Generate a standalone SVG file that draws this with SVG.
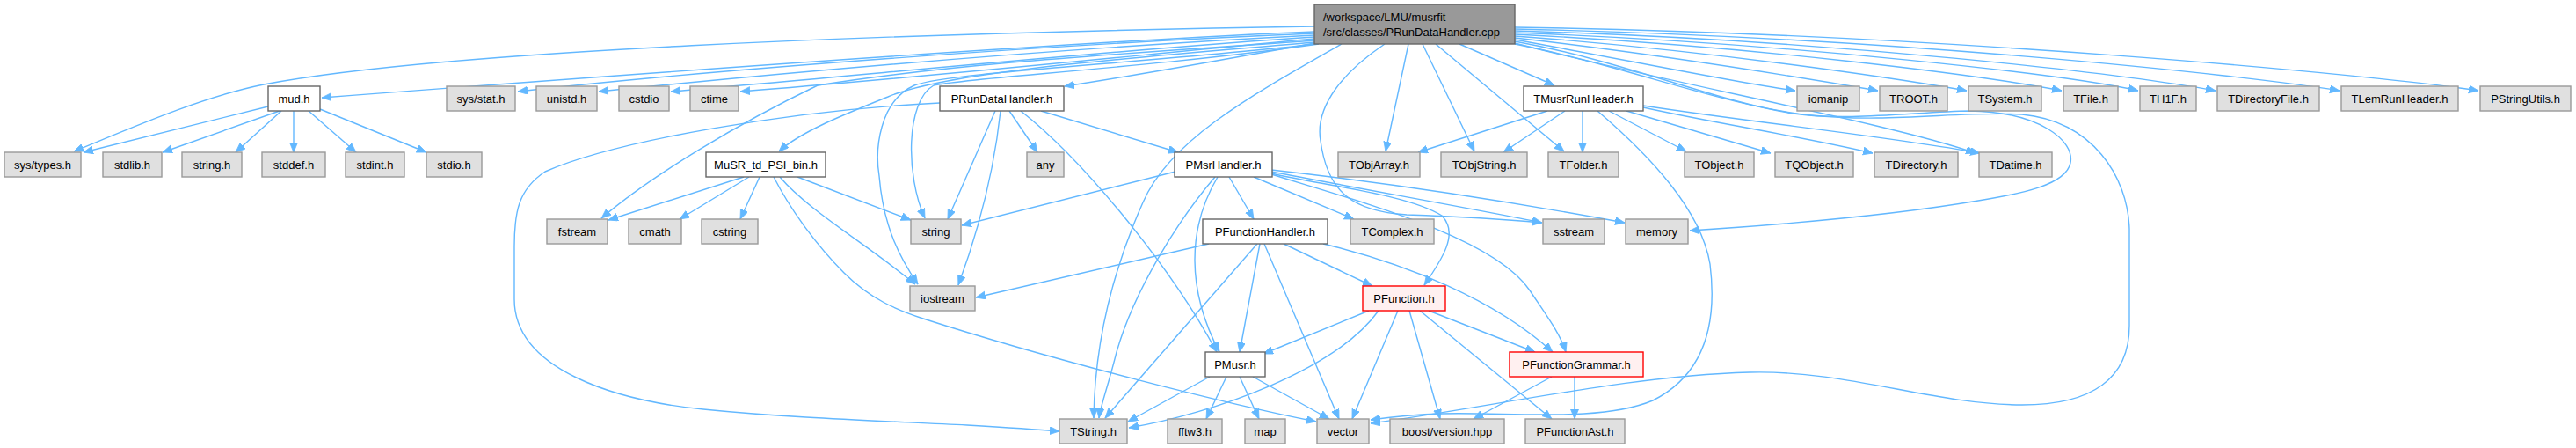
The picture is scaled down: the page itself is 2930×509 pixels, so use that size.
<svg xmlns="http://www.w3.org/2000/svg" width="2930" height="509" viewBox="0 0 2930 509">
<style>
.bg{fill:#ffffff}
.g rect{fill:#e0e0e0;stroke:#999999;stroke-width:1.4}
.w rect{fill:#ffffff;stroke:#666666;stroke-width:1.4}
.r rect{fill:#fff0f0;stroke:#ff0000;stroke-width:1.4}
.root rect{fill:#999999;stroke:#666666;stroke-width:1.4}
text{font-family:"Liberation Sans",Arial,sans-serif;font-size:13px;fill:#000000;text-anchor:middle}
.root text{text-anchor:start}
#edges path{fill:none;stroke:#63b8ff;stroke-width:1.4;marker-end:url(#ah)}
</style>
<defs>
<marker id="ah" markerUnits="userSpaceOnUse" markerWidth="12" markerHeight="10" refX="11" refY="4.5" orient="auto">
<path d="M0,0 L11,4.5 L0,9 z" fill="#63b8ff" stroke="#63b8ff" stroke-width="0.8"/>
</marker>
</defs>
<rect class="bg" x="0" y="0" width="2930" height="509"/>
<g id="edges">
<!-- root edges -->
<path d="M1495,36 C1250,46 800,78 366,111"/>
<path d="M1495,30 C1000,38 500,58 300,96 C230,110 150,145 84,172"/>
<path d="M1495,38 C1200,50 800,80 589,104"/>
<path d="M1495,40 C1200,55 900,82 681,104"/>
<path d="M1495,42 C1250,58 1000,84 763,104"/>
<path d="M1495,44 C1300,62 1050,88 842,104"/>
<path d="M1495,46 C1300,60 1100,70 930,97 C840,140 740,200 684,248"/>
<path d="M1495,48 C1300,65 1080,80 1010,110 C960,130 910,150 886,172"/>
<path d="M1497,50 C1300,72 1080,82 1040,97 C1000,115 995,170 1000,200 C1005,260 1025,295 1044,323"/>
<path d="M1500,50 C1300,78 1100,88 1062,97 C1030,115 1030,200 1052,248"/>
<path d="M1495,49 C1380,70 1290,86 1211,98"/>
<path d="M1526,50 C1420,110 1330,160 1300,230 C1260,320 1245,400 1244,475"/>
<path d="M1602,50 L1576,172"/>
<path d="M1618,50 L1677,172"/>
<path d="M1633,50 L1779,172"/>
<path d="M1660,50 L1768,97"/>
<path d="M1575,50 C1530,80 1495,120 1502,160 C1510,220 1540,240 1600,244 C1660,246 1700,248 1753,253"/>
<path d="M1723,47 C1850,70 1950,115 2040,129 C2100,138 2180,127 2240,126 C2320,127 2360,160 2355,185 C2350,210 2300,220 2250,228 C2150,245 2030,255 1922,262"/>
<path d="M1723,50 C1850,75 1960,120 2060,131 C2150,140 2230,126 2300,130 C2380,138 2420,200 2422,260 L2422,370 C2422,430 2380,460 2300,460 C2200,460 2100,420 1990,423 C1850,427 1700,462 1559,481"/>
<path d="M1723,45 C1850,68 1980,95 2042,103"/>
<path d="M1723,43 C1900,63 2060,90 2136,103"/>
<path d="M1723,41 C1950,58 2150,88 2237,103"/>
<path d="M1723,39 C2000,53 2250,85 2345,103"/>
<path d="M1723,37 C2050,50 2350,85 2432,103"/>
<path d="M1723,35 C2100,46 2420,85 2520,103"/>
<path d="M1723,33 C2150,42 2550,85 2661,103"/>
<path d="M1723,31 C2200,38 2700,85 2819,103"/>
<path d="M1723,49 C1900,95 2150,140 2247,174"/>
<!-- mud.h -->
<path d="M305,121 L95,173"/>
<path d="M318,126 L185,173"/>
<path d="M320,126 L268,173"/>
<path d="M334,126 L334,173"/>
<path d="M351,126 L405,173"/>
<path d="M364,124 L485,173"/>
<!-- MuSR_td_PSI_bin.h -->
<path d="M846,201 L692,250"/>
<path d="M852,201 L773,249"/>
<path d="M864,201 L842,249"/>
<path d="M887,201 C920,240 990,280 1041,323"/>
<path d="M880,201 C900,240 930,280 960,310 C990,340 1020,352 1050,362 C1200,410 1400,460 1497,479"/>
<path d="M907,201 L1036,250"/>
<!-- PRunDataHandler.h -->
<path d="M1132,126 L1078,249"/>
<path d="M1138,126 C1130,200 1110,270 1090,324"/>
<path d="M1148,126 L1180,173"/>
<path d="M1184,126 L1340,173"/>
<path d="M1161,126 C1230,180 1330,300 1384,400"/>
<path d="M1069,117 C900,125 700,160 620,195 C590,215 585,240 585,280 L585,340 C585,420 700,455 800,465 C900,475 1000,478 1100,483 C1150,486 1180,488 1205,490"/>
<!-- PMsrHandler.h -->
<path d="M1337,195 L1094,256"/>
<path d="M1382,201 C1340,250 1290,330 1270,400 C1260,440 1252,460 1250,475"/>
<path d="M1385,201 C1350,260 1350,330 1387,400"/>
<path d="M1398,201 L1426,249"/>
<path d="M1426,201 L1540,249"/>
<path d="M1446,195 C1550,215 1680,238 1754,253"/>
<path d="M1446,193 C1600,210 1750,235 1848,253"/>
<path d="M1446,197 C1500,210 1600,220 1640,245 C1660,265 1640,295 1620,324"/>
<path d="M1446,198 C1550,230 1700,270 1740,330 C1760,360 1775,380 1781,400"/>
<!-- PFunctionHandler.h -->
<path d="M1375,277 L1110,338"/>
<path d="M1430,277 L1257,475"/>
<path d="M1433,277 L1410,400"/>
<path d="M1438,277 L1523,476"/>
<path d="M1460,277 L1561,325"/>
<path d="M1505,277 C1600,300 1700,340 1766,400"/>
<!-- PFunction.h -->
<path d="M1557,353 L1437,402"/>
<path d="M1568,353 C1520,420 1380,470 1284,486"/>
<path d="M1590,353 L1538,476"/>
<path d="M1603,353 L1638,476"/>
<path d="M1615,353 L1765,476"/>
<path d="M1625,353 L1746,400"/>
<!-- PFunctionGrammar.h -->
<path d="M1765,428 L1676,476"/>
<path d="M1791,428 L1791,476"/>
<!-- PMusr.h -->
<path d="M1376,428 L1283,479"/>
<path d="M1395,428 L1372,476"/>
<path d="M1410,428 L1432,476"/>
<path d="M1425,428 L1512,476"/>
<!-- TMusrRunHeader.h -->
<path d="M1760,126 L1613,173"/>
<path d="M1780,126 L1710,173"/>
<path d="M1800,126 L1800,173"/>
<path d="M1830,126 L1918,172"/>
<path d="M1850,126 L2014,174"/>
<path d="M1869,122 C1950,140 2050,155 2130,174"/>
<path d="M1869,120 C2000,140 2150,155 2252,174"/>
<path d="M1817,126 C1880,180 1935,240 1945,300 C1955,380 1930,430 1880,455 C1820,480 1720,468 1640,470 C1600,471 1580,474 1559,477"/>
</g>
<g id="n_root" class="root"><rect x="1495" y="5" width="228" height="45"/><text x="1505" y="23.5">/workspace/LMU/musrfit</text><text x="1505" y="40.5">/src/classes/PRunDataHandler.cpp</text></g>
<g id="n_mud" class="w"><rect x="305" y="98" width="59" height="28"/><text x="334.5" y="116.5">mud.h</text></g>
<g id="n_sysstat" class="g"><rect x="508" y="98" width="78" height="28"/><text x="547" y="116.5">sys/stat.h</text></g>
<g id="n_unistd" class="g"><rect x="610" y="98" width="69" height="28"/><text x="644.5" y="116.5">unistd.h</text></g>
<g id="n_cstdio" class="g"><rect x="704" y="98" width="57" height="28"/><text x="732.5" y="116.5">cstdio</text></g>
<g id="n_ctime" class="g"><rect x="785" y="98" width="55" height="28"/><text x="812.5" y="116.5">ctime</text></g>
<g id="n_prundatahandler" class="w"><rect x="1069" y="98" width="141" height="28"/><text x="1139.5" y="116.5">PRunDataHandler.h</text></g>
<g id="n_tmusrrunheader" class="w"><rect x="1733" y="98" width="136" height="28"/><text x="1801" y="116.5">TMusrRunHeader.h</text></g>
<g id="n_iomanip" class="g"><rect x="2044" y="98" width="71" height="28"/><text x="2079.5" y="116.5">iomanip</text></g>
<g id="n_troot" class="g"><rect x="2138" y="98" width="77" height="28"/><text x="2176.5" y="116.5">TROOT.h</text></g>
<g id="n_tsystem" class="g"><rect x="2239" y="98" width="83" height="28"/><text x="2280.5" y="116.5">TSystem.h</text></g>
<g id="n_tfile" class="g"><rect x="2347" y="98" width="62" height="28"/><text x="2378" y="116.5">TFile.h</text></g>
<g id="n_th1f" class="g"><rect x="2434" y="98" width="64" height="28"/><text x="2466" y="116.5">TH1F.h</text></g>
<g id="n_tdirectoryfile" class="g"><rect x="2522" y="98" width="116" height="28"/><text x="2580" y="116.5">TDirectoryFile.h</text></g>
<g id="n_tlemrunheader" class="g"><rect x="2663" y="98" width="133" height="28"/><text x="2729.5" y="116.5">TLemRunHeader.h</text></g>
<g id="n_pstringutils" class="g"><rect x="2821" y="98" width="103" height="28"/><text x="2872.5" y="116.5">PStringUtils.h</text></g>
<g id="n_systypes" class="g"><rect x="5" y="173" width="87" height="28"/><text x="48.5" y="191.5">sys/types.h</text></g>
<g id="n_stdlib" class="g"><rect x="117" y="173" width="67" height="28"/><text x="150.5" y="191.5">stdlib.h</text></g>
<g id="n_stringh" class="g"><rect x="207" y="173" width="68" height="28"/><text x="241" y="191.5">string.h</text></g>
<g id="n_stddef" class="g"><rect x="298" y="173" width="72" height="28"/><text x="334" y="191.5">stddef.h</text></g>
<g id="n_stdint" class="g"><rect x="393" y="173" width="67" height="28"/><text x="426.5" y="191.5">stdint.h</text></g>
<g id="n_stdio" class="g"><rect x="485" y="173" width="63" height="28"/><text x="516.5" y="191.5">stdio.h</text></g>
<g id="n_musr_td_psi_bin" class="w"><rect x="803" y="173" width="136" height="28"/><text x="871" y="191.5">MuSR_td_PSI_bin.h</text></g>
<g id="n_any" class="g"><rect x="1168" y="173" width="42" height="28"/><text x="1189" y="191.5">any</text></g>
<g id="n_pmsrhandler" class="w"><rect x="1336" y="173" width="111" height="28"/><text x="1391.5" y="191.5">PMsrHandler.h</text></g>
<g id="n_tobjarray" class="g"><rect x="1522" y="173" width="93" height="28"/><text x="1568.5" y="191.5">TObjArray.h</text></g>
<g id="n_tobjstring" class="g"><rect x="1639" y="173" width="98" height="28"/><text x="1688" y="191.5">TObjString.h</text></g>
<g id="n_tfolder" class="g"><rect x="1761" y="173" width="80" height="28"/><text x="1801" y="191.5">TFolder.h</text></g>
<g id="n_tobject" class="g"><rect x="1916" y="173" width="79" height="28"/><text x="1955.5" y="191.5">TObject.h</text></g>
<g id="n_tqobject" class="g"><rect x="2019" y="173" width="89" height="28"/><text x="2063.5" y="191.5">TQObject.h</text></g>
<g id="n_tdirectory" class="g"><rect x="2132" y="173" width="95" height="28"/><text x="2179.5" y="191.5">TDirectory.h</text></g>
<g id="n_tdatime" class="g"><rect x="2251" y="173" width="83" height="28"/><text x="2292.5" y="191.5">TDatime.h</text></g>
<g id="n_fstream" class="g"><rect x="622" y="249" width="69" height="28"/><text x="656.5" y="267.5">fstream</text></g>
<g id="n_cmath" class="g"><rect x="715" y="249" width="60" height="28"/><text x="745" y="267.5">cmath</text></g>
<g id="n_cstring" class="g"><rect x="798" y="249" width="64" height="28"/><text x="830" y="267.5">cstring</text></g>
<g id="n_string" class="g"><rect x="1036" y="249" width="57" height="28"/><text x="1064.5" y="267.5">string</text></g>
<g id="n_pfunctionhandler" class="w"><rect x="1368" y="249" width="142" height="28"/><text x="1439" y="267.5">PFunctionHandler.h</text></g>
<g id="n_tcomplex" class="g"><rect x="1536" y="249" width="95" height="28"/><text x="1583.5" y="267.5">TComplex.h</text></g>
<g id="n_sstream" class="g"><rect x="1755" y="249" width="70" height="28"/><text x="1790" y="267.5">sstream</text></g>
<g id="n_memory" class="g"><rect x="1849" y="249" width="71" height="28"/><text x="1884.5" y="267.5">memory</text></g>
<g id="n_iostream" class="g"><rect x="1035" y="325" width="74" height="28"/><text x="1072" y="343.5">iostream</text></g>
<g id="n_pfunction" class="r"><rect x="1550" y="325" width="94" height="28"/><text x="1597" y="343.5">PFunction.h</text></g>
<g id="n_pmusr" class="w"><rect x="1371" y="400" width="68" height="28"/><text x="1405" y="418.5">PMusr.h</text></g>
<g id="n_pfunctiongrammar" class="r"><rect x="1717" y="400" width="152" height="28"/><text x="1793" y="418.5">PFunctionGrammar.h</text></g>
<g id="n_tstring" class="g"><rect x="1205" y="476" width="77" height="28"/><text x="1243.5" y="494.5">TString.h</text></g>
<g id="n_fftw3" class="g"><rect x="1328" y="476" width="62" height="28"/><text x="1359" y="494.5">fftw3.h</text></g>
<g id="n_map" class="g"><rect x="1416" y="476" width="46" height="28"/><text x="1439" y="494.5">map</text></g>
<g id="n_vector" class="g"><rect x="1498" y="476" width="59" height="28"/><text x="1527.5" y="494.5">vector</text></g>
<g id="n_boostversion" class="g"><rect x="1581" y="476" width="130" height="28"/><text x="1646" y="494.5">boost/version.hpp</text></g>
<g id="n_pfunctionast" class="g"><rect x="1735" y="476" width="113" height="28"/><text x="1791.5" y="494.5">PFunctionAst.h</text></g>
</svg>
